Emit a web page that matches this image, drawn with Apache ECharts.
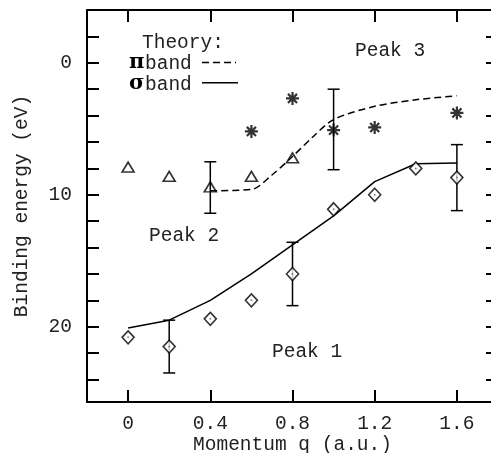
<!DOCTYPE html>
<html><head><meta charset="utf-8">
<script src="https://cdn.jsdelivr.net/npm/echarts@6/dist/echarts.min.js"></script>
<style>html,body{margin:0;padding:0;background:#fff}#c{width:491px;height:453px}</style>
</head><body><div id="c"></div>
<script>
// Data
const peak1Q = [0, 0.2, 0.4, 0.6, 0.8, 1.0, 1.2, 1.4, 1.6];
const peak1E = [20.8, 21.5, 19.4, 18.0, 16.0, 11.1, 10.0, 8.0, 8.7];
const peak2Q = [0, 0.2, 0.4, 0.6, 0.8];
const peak2E = [7.9, 8.6, 9.4, 8.6, 7.2];
const peak3Q = [0.6, 0.8, 1.0, 1.2, 1.6];
const peak3E = [5.2, 2.7, 5.1, 4.9, 3.8];
const errQ = [0.2, 0.8, 1.6, 0.4, 1.0];
const errLow = [19.5, 13.6, 6.2, 7.5, 2.0];
const errHigh = [23.5, 18.4, 11.2, 11.4, 8.1];
const piQ = [0.4, 0.6, 0.7, 0.8, 0.9, 1.0, 1.2, 1.4, 1.6];
const piE = [9.7, 9.6, 8.5, 7.1, 5.6, 4.3, 3.3, 2.8, 2.5];
const sigmaQ = [0, 0.2, 0.4, 0.6, 0.8, 1.0, 1.2, 1.4, 1.6];
const sigmaE = [20.1, 19.5, 18.0, 16.0, 13.8, 11.6, 9.0, 7.65, 7.6];
const xTicks = [0, 0.4, 0.8, 1.2, 1.6];
const yMinorTicks = [-2, 0, 2, 4, 6, 8, 10, 12, 14, 16, 18, 20, 22, 24];
const yLabels = [0, 10, 20];

const zip = (a, b) => a.map((v, i) => [v, b[i]]);
const FONT = 'Liberation Mono';
const FS = 19.5;
const TXT = '#222';

const chart = echarts.init(document.getElementById('c'), null, {renderer: 'canvas'});
const axisCommon = {
  axisLine: {show: true, onZero: false, lineStyle: {color: '#000', width: 2}},
  splitLine: {show: false}
};
const option = {
  animation: false,
  backgroundColor: '#fff',
  grid: {left: 87, top: 10, width: 411, height: 392, containLabel: false, outerBoundsMode: 'none'},
  xAxis: [
    Object.assign({}, axisCommon, {
      type: 'value', min: -0.2, max: 1.8, interval: 0.2, position: 'bottom',
      name: 'Momentum q (a.u.)', nameLocation: 'middle', nameGap: 33, nameMoveOverlap: false,
      nameTextStyle: {fontFamily: FONT, fontSize: FS, color: TXT},
      axisTick: {show: true, inside: true, length: 12, lineStyle: {width: 2, color: '#000'}, customValues: xTicks},
      axisLabel: {show: true, margin: 12, fontFamily: FONT, fontSize: FS, color: TXT, customValues: xTicks}
    }),
    Object.assign({}, axisCommon, {
      type: 'value', min: -0.2, max: 1.8, interval: 0.2, position: 'top',
      axisTick: {show: true, inside: true, length: 12, lineStyle: {width: 2, color: '#000'}, customValues: xTicks},
      axisLabel: {show: false}
    })
  ],
  yAxis: [
    Object.assign({}, axisCommon, {
      type: 'value', inverse: true, min: -4, max: 25.7, interval: 2, position: 'left',
      name: 'Binding energy (eV)', nameLocation: 'middle', nameGap: 55, nameMoveOverlap: false,
      nameTextStyle: {fontFamily: FONT, fontSize: FS, color: TXT},
      axisTick: {show: true, inside: true, length: 12, lineStyle: {width: 2, color: '#000'}, customValues: yMinorTicks},
      axisLabel: {show: true, margin: 15, fontFamily: FONT, fontSize: FS, color: TXT, customValues: yLabels}
    }),
    Object.assign({}, axisCommon, {
      type: 'value', inverse: true, min: -4, max: 25.7, interval: 2, position: 'right',
      axisTick: {show: true, inside: true, length: 12, lineStyle: {width: 2, color: '#000'}, customValues: yMinorTicks},
      axisLabel: {show: false}
    })
  ],
  series: [
    {
      type: 'line', data: zip(sigmaQ, sigmaE), showSymbol: false, symbol: 'none',
      lineStyle: {color: '#000', width: 1.5}, z: 2
    },
    {
      type: 'line', data: zip(piQ, piE), showSymbol: false, symbol: 'none', smooth: 0.3,
      lineStyle: {color: '#000', width: 1.5, type: [7, 4]}, z: 2
    },
    {
      type: 'custom', z: 3,
      data: errQ.map((q, i) => [q, errLow[i], errHigh[i]]),
      renderItem: function (params, api) {
        const top = api.coord([api.value(0), api.value(1)]);
        const bot = api.coord([api.value(0), api.value(2)]);
        const hw = 6;
        const st = {stroke: '#000', lineWidth: 1.5};
        return {
          type: 'group', children: [
            {type: 'line', shape: {x1: top[0], y1: top[1], x2: bot[0], y2: bot[1]}, style: st},
            {type: 'line', shape: {x1: top[0] - hw, y1: top[1], x2: top[0] + hw, y2: top[1]}, style: st},
            {type: 'line', shape: {x1: bot[0] - hw, y1: bot[1], x2: bot[0] + hw, y2: bot[1]}, style: st}
          ]
        };
      }
    },
    {
      type: 'scatter', data: zip(peak1Q, peak1E), symbol: 'diamond', symbolSize: [12, 13], z: 4,
      itemStyle: {color: '#fff', borderColor: '#000', borderWidth: 1.6}
    },
    {
      type: 'scatter', data: zip(peak1Q, peak1E), symbol: 'circle', symbolSize: 2, z: 5,
      itemStyle: {color: '#666'}
    },
    {
      type: 'scatter', data: zip(peak2Q, peak2E), symbol: 'triangle', symbolSize: [12, 10], z: 4,
      itemStyle: {color: 'rgba(0,0,0,0)', borderColor: '#000', borderWidth: 1.6}
    },
    {
      type: 'scatter', data: zip(peak3Q, peak3E),
      symbol: 'path://M0,5L10,5M5,0L5,10M1.5,1.5L8.5,8.5M1.5,8.5L8.5,1.5',
      symbolSize: 13, z: 4,
      itemStyle: {color: 'rgba(0,0,0,0)', borderColor: '#000', borderWidth: 2.2}
    }
  ],
  graphic: [
    {type: 'text', left: 142, top: 33, style: {text: 'Theory:', font: FS + 'px "' + FONT + '"', fill: TXT}},
    {type: 'text', left: 129, top: 52, style: {text: 'π', font: 'bold 21px "DejaVu Serif"', fill: '#000'}},
    {type: 'text', left: 145, top: 54, style: {text: 'band', font: FS + 'px "' + FONT + '"', fill: TXT}},
    {type: 'line', shape: {x1: 202, y1: 62.5, x2: 236, y2: 62.5}, style: {stroke: '#000', lineWidth: 1.5, lineDash: [7, 4]}},
    {type: 'text', left: 129, top: 73, style: {text: 'σ', font: 'bold 21px "DejaVu Serif"', fill: '#000'}},
    {type: 'text', left: 145, top: 75, style: {text: 'band', font: FS + 'px "' + FONT + '"', fill: TXT}},
    {type: 'line', shape: {x1: 202, y1: 82.7, x2: 238, y2: 82.7}, style: {stroke: '#000', lineWidth: 1.5}},
    {type: 'text', left: 355, top: 41, style: {text: 'Peak 3', font: FS + 'px "' + FONT + '"', fill: TXT}},
    {type: 'text', left: 149, top: 226, style: {text: 'Peak 2', font: FS + 'px "' + FONT + '"', fill: TXT}},
    {type: 'text', left: 272, top: 342, style: {text: 'Peak 1', font: FS + 'px "' + FONT + '"', fill: TXT}}
  ]
};
chart.setOption(option);
</script>
</body></html>
